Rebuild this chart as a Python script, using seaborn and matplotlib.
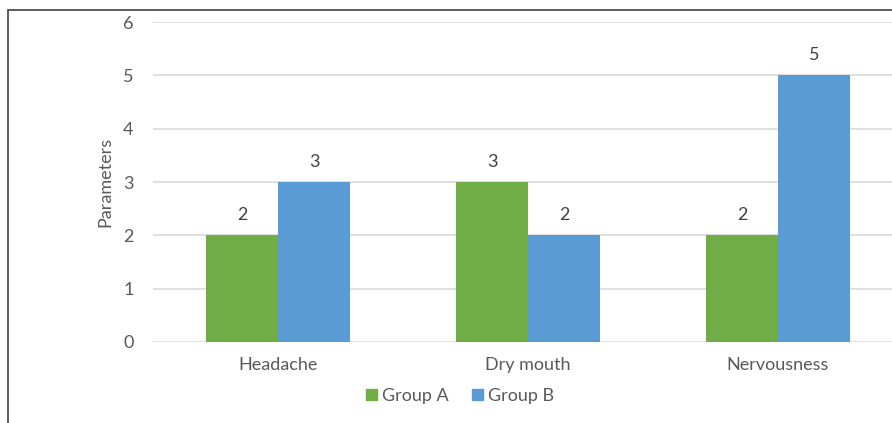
import matplotlib
matplotlib.use("Agg")
import matplotlib.pyplot as plt
import matplotlib.patches as mpatches
import pandas as pd
import seaborn as sns

# chart values
symptoms = ['Headache', 'Dry mouth', 'Nervousness']
groups = ['Group A', 'Group B']
group_a = [2, 3, 2]
group_b = [3, 2, 5]
colors = ['#70AD47', '#5B9BD5']

df = pd.DataFrame({
    'Symptom': symptoms * 2,
    'Group': [groups[0]] * 3 + [groups[1]] * 3,
    'Value': group_a + group_b,
})

sns.set_style("white")
plt.rcParams['font.family'] = ['Lato', 'DejaVu Sans']
fs = 13

fig = plt.figure(figsize=(8.92, 4.23), dpi=100)
ax = fig.add_axes([153 / 892, 1 - 342 / 423, 750 / 892, 320 / 423])

sns.barplot(data=df, x='Symptom', y='Value', hue='Group', order=symptoms,
            hue_order=groups, palette=colors, width=0.575, gap=0,
            saturation=1, linewidth=0, ax=ax, legend=False)

for c in ax.containers:
    ax.bar_label(c, padding=9, color='#404040', fontsize=fs)

ax.set_xlim(-0.5, 2.5)
ax.set_ylim(0, 6)
ax.set_yticks(range(0, 7))
ax.grid(axis='y', color='#d9d9d9', linewidth=1.2)
ax.set_axisbelow(True)
for s in ax.spines.values():
    s.set_visible(False)
ax.tick_params(axis='y', length=0, pad=14, labelcolor='#595959', labelsize=fs)
ax.tick_params(axis='x', length=0, pad=11, labelcolor='#595959', labelsize=fs)
ax.set_xlabel('')
ax.set_ylabel('Parameters', color='#595959', fontsize=fs, va='center')
ax.yaxis.set_label_coords(-48 / 750, 0.5)

handles = [mpatches.Patch(color=col, label=g) for col, g in zip(colors, groups)]
fig.legend(handles=handles, loc='center', bbox_to_anchor=(460 / 892, 1 - 396 / 423),
           ncol=2, frameon=False, fontsize=fs, handlelength=0.6, handleheight=0.6,
           handletextpad=0.3, columnspacing=1.3, labelcolor='#595959')

# frame border of the original chart box
fig.patches.append(mpatches.Rectangle((8 / 892, -0.2), 2, 1.2 - 10 / 423,
                                      transform=fig.transFigure, fill=False,
                                      edgecolor='#404040', linewidth=1.2))

fig.savefig('out.png', dpi=100)
